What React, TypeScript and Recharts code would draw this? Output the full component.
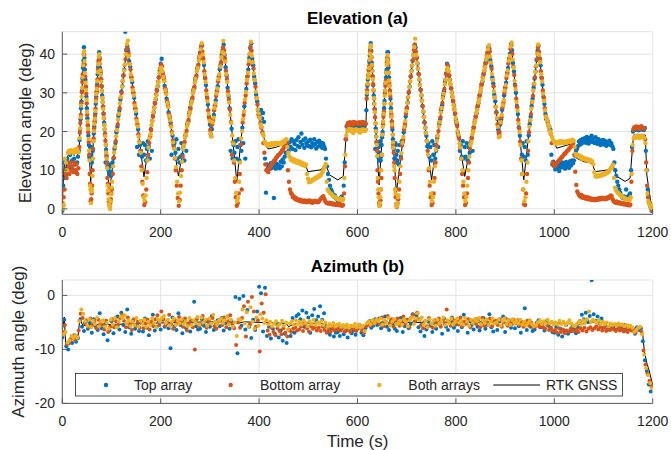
import React from 'react';
import { ComposedChart, Scatter, Line, XAxis, YAxis, CartesianGrid } from 'recharts';

// ---------- axes / ticks ----------
const TIME_TICKS = [0, 200, 400, 600, 800, 1000, 1200];
const ELEV_TICKS = [0, 10, 20, 30, 40];
const AZ_TICKS = [-20, -10, 0];
const TIME_DOMAIN: [number, number] = [0, 1200];
const ELEV_DOMAIN: [number, number] = [-1.4, 45.8];
const AZ_DOMAIN: [number, number] = [-20, 2.85];

// sampling of the scatter series (seconds) and phase of each array inside a step
const ELEV_STEP = 2;
const AZ_STEP = 4;
const PHASE_TOP = 0;
const PHASE_BOTTOM = 1 / 3;
const PHASE_BOTH = 2 / 3;
// extra (in-between) samples read on the steepest passes
const ELEV_EXTRA_START_1 = 35;
const ELEV_EXTRA_START_2 = 619;

// ---------- Elevation (a) : scatter series, one value every 2 s ----------
const ELEV_TOP_ARRAY = [
  -0.5, 6, 12, 8, 9, 13, 12, 10.5, 14, 11, /* 0 */
  12.5, 10, 13, 11.5, 9.5, 12, 13.5, 15, 20.5, 26, /* 20 */
  30.5, 36.5, 41.8, 36, 31.5, 26, 21.5, 16.5, 13, 16, /* 40 */
  12, 15, 19.5, 22.5, 27.2, 30.3, 34.8, 38.5, 39, 35.2, /* 60 */
  31.7, 27.6, 24.6, 20.5, 12, 13.5, 11, 10, 11.5, 9, /* 80 */
  9.5, 12, 13, 15.5, 17, 19.8, 21.2, 24, 25.4, 28.2, /* 100 */
  30.3, 31.7, 34.5, 36, 45.8, 41, 42.2, 40.8, 38.2, 36.8, /* 120 */
  34.1, 32.8, 30.1, 28.7, 26, 24.6, 16, 20.6, 14, 16.5, /* 140 */
  15, 13.5, 17, 14, 16.5, 12.5, 15.5, 17.5, 16, 13, /* 160 */
  20.6, 15, 24, 25, 27.4, 28.3, 30.8, 31.7, 34, 35.8, /* 180 */
  37.5, 38.8, 35.2, 34.2, 31.8, 30.8, 28.5, 27.5, 25, 24.1, /* 200 */
  22.3, 14, 18.9, 16.5, 17, 14.5, 18, 13, 15.5, 12, /* 220 */
  13.5, 17, 14, 16, 12.5, 18.8, 15, 21.8, 22.5, 24.6, /* 240 */
  26.2, 27.5, 28.3, 30.5, 31.2, 33.4, 34, 36.2, 36.8, 38.9, /* 260 */
  40.4, 41.8, 42.3, 39, 37.2, 33.9, 32, 28.9, 27, 23.8, /* 280 */
  21.8, 19.3, 20.6, 23, 24.3, 26.7, 28, 30.5, 31.7, 34.2, /* 300 */
  36.1, 37.3, 39.8, 41.1, 42.5, 39.8, 36.6, 34.5, 31.3, 29.2, /* 320 */
  26, 15, 20.7, 13, 16.5, 14.5, 17.5, 13, 16, 18, /* 340 */
  12.5, 16.5, 15, 21, 17, 26.5, 13, 31, 34.2, 36, /* 360 */
  39, 41.6, 42.8, 38.8, 37.1, 34.2, 32.5, 29.5, 27.8, 25.5, /* 380 */
  25.3, 24.6, 25.6, 23.4, 24.8, 22.5, 13, 4.2, 11.5, 10.5, /* 400 */
  11, 10.3, 11.8, 10.6, 12, 2.8, 11.2, 10.4, 11.6, 10.8, /* 420 */
  11.2, 10.5, 12.2, 11, 12.8, 12, 13.5, 14.5, 17, 16.5, /* 440 */
  15, 17.2, 16, 18, 15.5, 17.5, 16.8, 15.2, 17.8, 16.3, /* 460 */
  18.5, 16, 17.3, 19.5, 16.6, 17.8, 15.8, 18.2, 17, 16.4, /* 480 */
  17.5, 16.2, 17.9, 15.9, 17, 16.4, 18, 16.8, 15.6, 17.3, /* 500 */
  16.1, 17.6, 16.5, 17.1, 15.8, 16.9, 16.2, 15.5, 13, 11, /* 520 */
  9, 7.5, 6, 5, 4.5, 3.8, 3.2, 3.5, 2.8, 2.5, /* 540 */
  2.2, 2.6, 2.1, 2.9, 3.2, 2.5, 6, 12, 18, 21.3, /* 560 */
  21.8, 22.1, 21.6, 22, 21.4, 21.9, 22.2, 21.7, 22, 21.5, /* 580 */
  21.8, 22, 21.4, 21.9, 22.2, 21.6, 22, 21.7, 21.9, 25.5, /* 600 */
  31.8, 34.3, 38, 41.2, 40.8, 35.7, 32, 27.2, 15.5, 18.7, /* 620 */
  15, 16.5, 12.5, 17.5, 13.5, 18.5, 22.5, 26, 30.5, 34, /* 640 */
  38.5, 40.5, 34, 30.5, 26, 22.5, 18, 15.5, 13, 16.5, /* 660 */
  12, 15, 11.5, 16.5, 13.5, 17.5, 17.3, 19.8, 21.3, 23.9, /* 680 */
  26, 27.5, 30.1, 31.6, 34.2, 35.7, 38.3, 39.8, 42.4, 41.7, /* 700 */
  39.1, 37.6, 34.9, 33.4, 30.8, 29.3, 26.6, 25.1, 22.4, 21, /* 720 */
  18.9, 16.2, 17, 13.5, 16, 12.5, 17.5, 14, 16.5, 13, /* 740 */
  15, 18.3, 16, 21.9, 23.1, 25.5, 26.8, 29.2, 30.4, 32.8, /* 760 */
  35, 37.5, 36.8, 34.4, 33.4, 31.2, 30.1, 27.9, 26.8, 24.6, /* 780 */
  23, 21.9, 19.7, 18.6, 15, 16.5, 13.5, 17.5, 13, 16, /* 800 */
  13.5, 17, 12.5, 16, 14.5, 17, 18.4, 15, 21.1, 22.5, /* 820 */
  23.9, 24.7, 26.6, 27.4, 29.4, 30.2, 32.2, 32.9, 34.9, 35.7, /* 840 */
  37.7, 38.5, 40.4, 41.8, 41.4, 38.5, 36.9, 34, 32.4, 29.5, /* 860 */
  27.8, 25, 23.3, 20.5, 19.3, 21.8, 23.1, 25.6, 26.9, 29.4, /* 880 */
  31.3, 32.6, 35.1, 36.4, 38.8, 40.1, 42.6, 41, 37.7, 35.5, /* 900 */
  32.1, 30, 26.6, 24.5, 21.1, 18.9, 16.5, 14, 17, 13.5, /* 920 */
  16, 12.5, 17.5, 14, 19, 21.9, 23.8, 26.6, 28.5, 31.3, /* 940 */
  33.7, 35.5, 38.5, 40.9, 42.2, 39, 37.1, 34, 32.1, 29, /* 960 */
  27.1, 24.6, 23.2, 22.8, 21.7, 21.2, 20.5, 14, 11.5, 12.2, /* 980 */
  11, 10.2, 11.8, 10.5, 11.2, 9.8, 11.6, 10.7, 12, 10.9, /* 1000 */
  11.5, 10.4, 12.1, 11, 11.8, 10.6, 12.3, 11.2, 12.5, 11.8, /* 1020 */
  12.5, 13.8, 14.7, 15.5, 16.2, 17.4, 16.6, 17.8, 16.9, 18.1, /* 1040 */
  17.5, 18.3, 17.1, 18.6, 17.8, 16.9, 18.4, 17.6, 18.9, 17.3, /* 1060 */
  18.2, 17, 18.5, 17.4, 16.8, 18, 17.2, 16.5, 17.7, 16.9, /* 1080 */
  17.8, 16.6, 17.5, 16.3, 17.2, 16.8, 17.6, 16.5, 17, 16.2, /* 1100 */
  15.5, 12, 10, 8.5, 7, 6, 5, 4.2, 3.5, 3, /* 1120 */
  2.8, 3.2, 2.6, 5, 3, 2.5, 3.5, 4, 10, 16, /* 1140 */
  20, 20.8, 20.4, 21, 20.6, 20.9, 20.3, 20.7, 21.1, 20.5, /* 1160 */
  20.7, 20.4, 20.9, 15, 10, 5, 3, 1.5, 0.5, -0.5, /* 1180 */
  0,
];
const ELEV_TOP_EXTRA_1 = [
  17.8, 23.2, 27.8, 33.7, 38.3, 39, 33.4, 29, 23.4, 18.9, 13.5, 16, 14, 13, 17.5, 21.3, 24.6,
  29, 32.2, 36.7, 40.5, 36.4, 33.5, 29.3, 26.4, 22.3, 19.4, 15.3, 12, 10.5, 9, 11, 8.5,
];
const ELEV_TOP_EXTRA_2 = [
  29.5, 33.4, 35.9, 39.6, 42.8, 37.8, 34.2, 29.3, 25.7, 20.8, 17.1, 13.5, 16, 14.5, 12.5, 16.5,
  19.9, 24.5, 27.9, 32.5, 35.9, 40.5, 36.5, 31.9, 28.5, 23.9, 20.5, 15.8, 13, 17, 14, 12.5,
];

const ELEV_BOTTOM_ARRAY = [
  1.5, 3, 5, 9, 8, 10, 11, 9, 12, 10, /* 0 */
  11, 9.5, 12, 10, 11.5, 9, 10.5, 16, 22.2, 27.3, /* 20 */
  32.8, 37.3, 39.8, 34.2, 29.8, 24.3, 19.8, 14, 6.5, 2.5, /* 40 */
  6, 15.5, 20.8, 24, 28.5, 31.6, 36, 39.3, 37.6, 33.4, /* 60 */
  30.5, 26.4, 23.4, 19.3, 16.5, 11.8, 6.5, 2, 0.3, 2.5, /* 80 */
  5, 9, 13.2, 16, 17.5, 20.3, 21.8, 24.5, 26, 28.8, /* 100 */
  30, 33, 34.5, 37.2, 38.7, 41.3, 41.5, 40.1, 37.5, 36, /* 120 */
  34, 31.4, 30, 27.4, 25.9, 23.3, 21.9, 19.3, 17.3, 15, /* 140 */
  11, 7, 3.5, 1, 1.8, 5, 9.5, 14, 17, 18.8, /* 160 */
  20.4, 22.8, 23.9, 26.2, 27.3, 29.6, 30.6, 32.9, 34, 36.3, /* 180 */
  37.3, 36.9, 34.6, 33.5, 31.2, 30.1, 27.9, 26.8, 24.5, 23.4, /* 200 */
  21.6, 19.9, 17.7, 16, 13, 10, 6, 2.8, 0.8, 2.3, /* 220 */
  6, 10, 13.5, 16.5, 17.3, 19.3, 20.2, 22.2, 23, 25.1, /* 240 */
  25.9, 27.9, 28.8, 30.8, 31.6, 33.7, 34.5, 36.5, 37.3, 39.4, /* 260 */
  40.2, 42.2, 40.7, 38.8, 35.6, 33.7, 30.6, 28.6, 25.5, 23.5, /* 280 */
  20.4, 18.8, 21.8, 23, 25.5, 26.7, 29.2, 30.5, 32.9, 34.2, /* 300 */
  36.7, 37.9, 40.4, 41.7, 41, 38.9, 35.7, 33.6, 30.4, 28.3, /* 320 */
  25.7, 22.5, 14, 17.2, 12, 7, 3, 0.8, 1.5, 4, /* 340 */
  9, 16.6, 5, 22.3, 24.3, 27.4, 29.3, 32.4, 34.3, 37.4, /* 360 */
  39.9, 41.9, 40.9, 38, 36.3, 33.4, 31.6, 28.7, 27, 24.4, /* 380 */
  23.6, 22.2, 21, 19.8, 17, 14.5, 11.5, 10, 10.2, 9.5, /* 400 */
  10.3, 11, 11.2, 11.7, 11.9, 12.5, 12.6, 13.2, 13.4, 13.9, /* 420 */
  14, 14.3, 14.6, 15.1, 15.3, 15.9, 16.2, 16.5, 17.2, 10, /* 440 */
  7, 5, 4.2, 3.8, 3, 3.2, 2.6, 2.8, 2.3, 2.5, /* 460 */
  2.2, 2, 2.4, 1.9, 2.1, 1.8, 2.2, 2, 1.7, 2.1, /* 480 */
  1.9, 2.2, 1.7, 2, 1.6, 1.9, 2.1, 1.8, 2, 1.7, /* 500 */
  1.8, 2.1, 2.5, 2.8, 3.1, 3.3, 2.6, 2, 1.6, 1.5, /* 520 */
  1.4, 1.6, 1.3, 1.5, 1.2, 1.4, 1.1, 1.3, 1, 1.2, /* 540 */
  1, 1.2, 0.9, 1.1, 0.8, 1, 4, 11, 18, 21.5, /* 560 */
  22.2, 21.9, 22.4, 22, 22.3, 21.8, 22.5, 22.1, 22.3, 22, /* 580 */
  22.3, 22, 22.4, 21.9, 22.2, 22.5, 22.1, 22.3, 22, 28.5, /* 600 */
  32.2, 35.9, 38.4, 42.1, 39.2, 34.3, 30.6, 25.8, 22.1, 17.3, /* 620 */
  10, 4, 0.8, 2.2, 8, 19.2, 23.8, 27.2, 31.8, 35.2, /* 640 */
  39.2, 37.2, 32.6, 29.2, 24.6, 21.2, 16.6, 12, 5, 1.2, /* 660 */
  0.8, 2.5, 5, 9, 13, 16.4, 17.9, 20.5, 22, 24.6, /* 680 */
  26.1, 28.8, 30.2, 32.9, 34.3, 37, 38.4, 41.1, 42.5, 40.7, /* 700 */
  39, 36.3, 34.8, 32.1, 30.7, 28, 26.5, 23.8, 22.3, 19.7, /* 720 */
  17.6, 15, 10, 6, 3, 1, 1.5, 4, 8, 12, /* 740 */
  16.4, 18.9, 20.1, 22.5, 23.7, 26.1, 27.4, 29.8, 31, 33.4, /* 760 */
  34.8, 37.3, 35.5, 34.5, 32.3, 31.2, 29, 27.9, 25.7, 24.7, /* 780 */
  22.4, 21.4, 19.1, 18.1, 15.8, 13, 9, 6, 3, 1, /* 800 */
  1.5, 4, 8, 12, 15.5, 17.5, 18.3, 20.2, 21, 23, /* 820 */
  23.8, 25.8, 26.5, 28.5, 29.3, 31.3, 32.1, 34, 34.8, 36.8, /* 840 */
  37.6, 39.6, 40.3, 41.7, 40.7, 37.8, 36.2, 33.3, 31.7, 28.8, /* 860 */
  26.4, 24.9, 21.9, 19.7, 19.9, 22.4, 23.7, 26.2, 27.5, 30, /* 880 */
  31.3, 33.8, 35.1, 37.6, 38.8, 41.3, 42.3, 40.1, 36.8, 34.6, /* 900 */
  31.8, 28.5, 26.3, 23, 20.8, 17.4, 13, 9, 5, 1.2, /* 920 */
  1, 4, 9, 15, 19.8, 22.8, 24.5, 27.5, 29.2, 32.2, /* 940 */
  34, 36.9, 38.7, 41.7, 40.6, 38.7, 35.6, 33.7, 30.6, 28.7, /* 960 */
  26, 24, 23.1, 22.2, 21.2, 20.3, 19.4, 17, 12, 11.5, /* 980 */
  11, 11.4, 11.7, 12.1, 12.3, 12.7, 13, 13.3, 13.5, 13.9, /* 1000 */
  14.2, 14.4, 14.8, 15, 15.3, 15.6, 15.9, 16.2, 16.6, 17, /* 1020 */
  14, 9.6, 6.2, 4.5, 4, 3.5, 3.2, 3.6, 2.9, 3.3, /* 1040 */
  2.8, 3.1, 2.6, 3, 2.5, 2.9, 2.4, 2.7, 2.3, 2.6, /* 1060 */
  2.5, 2.2, 2.6, 2.3, 2.7, 2.4, 2.8, 2.5, 2.9, 2.6, /* 1080 */
  2.7, 2.5, 2.8, 2.6, 3, 2.8, 3.2, 3.5, 3.3, 2.5, /* 1100 */
  2, 1.8, 1.6, 1.9, 1.5, 1.7, 1.4, 1.6, 1.3, 1.5, /* 1120 */
  1.2, 1.4, 1.1, 1.3, 1, 1.2, 0.9, 1.1, 7, 15, /* 1140 */
  20.5, 21.1, 20.8, 21.3, 20.9, 21.2, 20.7, 21, 21.4, 20.9, /* 1160 */
  21, 20.7, 18, 12, 6, 3, 1.5, 0.8, 0.2, -0.3, /* 1180 */
];
const ELEV_BOTTOM_EXTRA_1 = [
  19.7, 24.3, 30.2, 34.8, 40, 37.3, 31.7, 27.3, 21.7, 17.3, 9, 2, 4, 10, 18.2, 22.6, 25.9,
  30.3, 33.5, 38, 38.7, 35.8, 31.7, 28.7, 24.6, 21.7, 17.6, 14, 8, 4, 1, 1.5, 4,
];
const ELEV_BOTTOM_EXTRA_2 = [
  30.7, 34.4, 36.9, 40.6, 40.7, 37, 32.2, 28.5, 23.7, 20, 15.1, 7, 1.5, 1, 5, 14,
  21.8, 25.2, 29.8, 33.2, 37.8, 38.6, 35.2, 30.6, 27.2, 22.6, 19.2, 14.5, 8, 3, 0.5, 1.5,
];

const ELEV_BOTH_ARRAY = [
  0, 1, 13, 12, 10, 14.5, 15, 14.5, 15.2, 14.8, /* 0 */
  15, 14.5, 15.3, 14.8, 15.5, 15, 14.6, 18.3, 23.7, 29, /* 20 */
  34, 39.8, 38.2, 32.6, 28.2, 22.6, 18.1, 12.5, 5, 4.5, /* 40 */
  8.5, 17.5, 22, 25.3, 29.7, 33, 37.4, 40, 35.8, 32.9, /* 60 */
  28.7, 25.8, 21.7, 18.8, 14.6, 10.5, 4.8, 1.2, 0, 3.8, /* 80 */
  7, 11, 14.6, 16.1, 18.8, 20.4, 23.1, 24.6, 27.3, 28.9, /* 100 */
  31.6, 33.1, 35.8, 37.3, 40, 42.6, 43.5, 39.5, 37.4, 34.8, /* 120 */
  33.3, 30.7, 29.3, 26.7, 25.3, 22.7, 21.3, 18.7, 17.2, 14.5, /* 140 */
  10, 6.5, 3, 2.2, 3.5, 8, 12.5, 15.8, 18.2, 19.3, /* 160 */
  21.6, 22.7, 25, 26.1, 28.4, 29.4, 31.7, 32.8, 35.1, 36.2, /* 180 */
  36.5, 35.6, 34.1, 33, 30.7, 29.6, 27.4, 26.3, 24, 22.9, /* 200 */
  21.2, 19.5, 17.2, 15.5, 13.2, 10.8, 7, 4, 2, 4.2, /* 220 */
  8.5, 12.2, 15.5, 16.4, 18.4, 19.2, 21.3, 22.1, 24.1, 25, /* 240 */
  27, 27.8, 29.9, 30.7, 32.7, 33.6, 35.6, 36.4, 38.4, 39.3, /* 260 */
  41.3, 42.8, 39.9, 37.9, 34.8, 32.8, 29.7, 27.8, 24.6, 22.7, /* 280 */
  19.5, 18.7, 22.4, 23.6, 26.1, 27.3, 29.8, 31.1, 33.5, 34.8, /* 300 */
  36.8, 39.2, 40.5, 43.4, 40.1, 38.1, 34.8, 32.8, 29.5, 27.5, /* 320 */
  24.3, 22.2, 19, 16.9, 12.5, 8, 4.2, 2, 2.8, 7, /* 340 */
  12, 18.2, 20.1, 23.2, 25.2, 28.3, 30.2, 33.3, 35.2, 38.3, /* 360 */
  40.1, 43.2, 39.6, 37.9, 35, 33.3, 30.3, 28.6, 25.7, 24.7, /* 380 */
  23.5, 21.8, 21.2, 19.4, 18.9, 17.4, 16.9, 16.5, 16.8, 16.3, /* 400 */
  16.8, 16.4, 17, 16.6, 16.9, 16.5, 17.1, 16.7, 17, 16.8, /* 420 */
  17, 16.7, 17.2, 17, 17.5, 17.3, 17.8, 18, 16, 14.5, /* 440 */
  13.6, 13.2, 12.6, 13, 12.3, 12.8, 12.1, 12.5, 11.9, 12.3, /* 460 */
  11.8, 12.2, 11.5, 11.9, 11.3, 11.7, 11.1, 11.4, 9, 7.8, /* 480 */
  6.9, 7.2, 7, 7.5, 7.4, 7.8, 7.7, 8.1, 8, 8.4, /* 500 */
  8.3, 8.8, 8.6, 9.2, 9.6, 10.3, 11, 11.6, 7, 5, /* 520 */
  4.6, 4.2, 4, 3.8, 3.5, 3.3, 3.1, 3, 2.7, 2.6, /* 540 */
  2.5, 2.4, 2.7, 2.3, 2.2, 2.6, 8, 14, 19, 20.2, /* 560 */
  20.3, 20.7, 20.2, 20.6, 20, 19.6, 20.5, 20.1, 20.6, 20.3, /* 580 */
  20.4, 20, 19.7, 20.5, 20.2, 20.6, 20.3, 20.1, 20.5, 30, /* 600 */
  33.9, 36.4, 40.1, 42.3, 37.2, 33.5, 28.6, 25, 20.1, 16.5, /* 620 */
  8, 3, 1.5, 5, 14, 21.2, 24.6, 29.2, 32.6, 37.2, /* 640 */
  39.8, 35.2, 31.8, 27.2, 23.8, 19.2, 15.8, 10, 4, 0.6, /* 660 */
  1.5, 3.5, 7, 11, 14.4, 17.1, 18.6, 21.2, 22.7, 25.3, /* 680 */
  27.4, 28.9, 31.5, 33, 35.6, 37.1, 39.7, 41.8, 44, 39.7, /* 700 */
  37.7, 36.2, 33.5, 32, 29.4, 27.9, 25.2, 23.7, 21, 19.6, /* 720 */
  17.5, 14, 10.5, 7, 4, 2, 3, 7, 11, 15.3, /* 740 */
  17.6, 18.9, 21.3, 22.5, 24.9, 26.1, 28.6, 29.8, 32.2, 33.4, /* 760 */
  36, 36.4, 35.6, 33.3, 32.3, 30.1, 29, 26.8, 25.7, 23.5, /* 780 */
  22.5, 20.2, 19.2, 16.9, 15.9, 13, 10, 7, 4, 2, /* 800 */
  3, 6, 10, 13.5, 16.5, 17.3, 19.3, 20, 22, 22.8, /* 820 */
  24.8, 25.6, 27.5, 28.3, 30.3, 31.1, 33.1, 33.8, 35.8, 36.6, /* 840 */
  38.6, 39.4, 41.3, 42.3, 39.4, 37.8, 34.9, 33.3, 30.4, 28.8, /* 860 */
  26.3, 23.5, 21.2, 18.5, 18.8, 22.4, 24.3, 26.8, 28.1, 30.6, /* 880 */
  32, 34.5, 35.8, 38.3, 39.5, 42, 43, 38.6, 36.5, 33.1, /* 900 */
  30.9, 27.6, 25.4, 22.1, 19.9, 16.5, 12.5, 9, 5, 2, /* 920 */
  3, 7, 12, 17.5, 21.2, 23, 25.9, 27.7, 30.6, 32.4, /* 940 */
  35.4, 37.1, 40.1, 42.5, 39.8, 37.9, 34.8, 32.9, 29.8, 27.9, /* 960 */
  25.5, 23.8, 22.9, 21.8, 21.2, 20.1, 19.5, 18.6, 17.8, 17.5, /* 980 */
  17.2, 16.8, 17.3, 16.9, 17.4, 17, 17.5, 17.1, 17.4, 17, /* 1000 */
  17.3, 17, 17.5, 17.2, 17.6, 17.3, 17.7, 17.5, 17.9, 17.6, /* 1020 */
  16, 14.2, 13.8, 14, 13.5, 13.8, 13.2, 13.5, 12.9, 13.2, /* 1040 */
  12.8, 13, 12.6, 12.9, 12.4, 12.7, 12.3, 12.5, 12.2, 11.5, /* 1060 */
  9.5, 8.5, 8.3, 8.6, 8.4, 8.8, 8.5, 8.9, 8.7, 9.1, /* 1080 */
  8.9, 9.3, 9.1, 9.5, 9.4, 9.8, 10.2, 10.6, 11, 11.4, /* 1100 */
  8, 5.5, 4.8, 4.4, 4.1, 3.9, 3.6, 3.5, 3.2, 3.1, /* 1120 */
  2.9, 2.7, 2.5, 2.6, 2.4, 2.5, 2.3, 3, 9, 16.5, /* 1140 */
  18.2, 18.7, 18.4, 18.9, 18.5, 18.8, 18.3, 18.6, 19, 18.5, /* 1160 */
  18.6, 18.3, 17, 10, 4, 2, 1.2, 0.7, 0.3, 1, /* 1180 */
];
const ELEV_BOTH_EXTRA_1 = [
  20.8, 26.7, 31.3, 37.1, 40.8, 35.1, 30.7, 25.1, 20.7, 15.1, 6, 1.5, 5, 13, 20.1, 23.3, 27.8,
  31, 35.4, 39.3, 37.6, 34.6, 30.5, 27.6, 23.5, 20.6, 16.5, 13, 6, 2.5, 0.5, 2, 5.5,
];
const ELEV_BOTH_EXTRA_2 = [
  32.4, 34.9, 38.6, 41.7, 39.3, 35.6, 30.8, 27.1, 22.2, 18.6, 13.7, 5, 0.8, 3, 10, 19.2,
  22.6, 27.2, 30.6, 35.2, 38.6, 37.8, 33.2, 29.8, 25.2, 21.8, 17.2, 11, 5, 1, 0.8, 3,
];

// RTK GNSS reference elevation [time s, angle deg]
const RTK_ELEVATION: [number, number][] = [
  [0, 1], [2, 7], [4, 12.5], [7, 9], [10, 13], [12, 14], [16, 13.5], [20, 14.5], [24, 13.8], [28, 15],
  [31, 14], [34, 15], [44, 41.2], [57.7, 7], [75, 40.2], [95.6, 4], [132, 42.5], [166, 8.3], [201, 38],
  [236, 8.5], [283.5, 42.5], [302, 19], [327.5, 42.8], [354.7, 7], [383, 42.6], [398, 25], [404, 21.7],
  [410, 18.3], [416, 15.8], [420, 15.5], [436, 16], [448, 16.6], [456, 17.8], [461, 13.5], [468, 12.2],
  [494, 11.8], [499, 9.6], [526, 10.1], [535, 11.8], [543, 8.8], [560, 7.5], [571, 8.4], [574, 13.5],
  [577, 19.5], [580, 20.8], [588, 21], [590, 20], [592, 21], [602, 21], [604, 19.9], [606, 21],
  [617, 21], [619, 30], [627, 42.4], [644, 6.2], [661, 40.2], [679, 4.1], [716.7, 42.8], [750.5, 7.5],
  [783, 37.2], [818, 8.4], [867, 42.2], [887.5, 19.1], [912.5, 42.8], [938, 7.5], [967.5, 42.4],
  [982, 24.3], [995, 18.3], [1005, 15.7], [1032, 16.7], [1039, 17.4], [1045, 13.1], [1060, 12.2],
  [1077, 11.8], [1083, 9.6], [1110, 10.1], [1119, 11.4], [1127, 8.4], [1144, 7.1], [1154, 7.9],
  [1161, 19.1], [1170, 19.3], [1178, 19], [1185, 19.1], [1188, 8.8], [1194, 3.6], [1197, 1], [1200, 0],
];

// ---------- Azimuth (b) : scatter series, one value every 4 s ----------
const AZ_TOP_ARRAY = [
  -7.8, -4.5, -9.4, -10, -8.2, -8.8, -7.4, -8.6, -7.9, -4.6, /* 0 */
  -5.8, -6.6, -4.9, -6.2, -5.1, -6.9, -4.4, -5.7, -6.4, -3.3, /* 40 */
  -6.1, -7.2, -5.3, -8.3, -6.5, -4.8, -7, -5.6, -3.9, -6.3, /* 80 */
  -3.2, -5.5, -6.8, -2.6, -5.9, -7.1, -4.7, -6.2, -5.3, -6.6, /* 120 */
  -5.1, -6.7, -4.3, -6, -7.4, -5.2, -3.6, -6.5, -5.8, -4.7, /* 160 */
  -6.3, -4.5, -5.8, -5.2, -6.1, -9.8, -4.1, -5.7, -6.4, -3.3, /* 200 */
  -5.5, -7, -4.6, -6.1, -5.3, -6.7, -4.9, -1.2, -5.7, -6.3, /* 240 */
  -6.2, -4.4, -5.6, -6.8, -4.9, -5.8, -3.8, -6.4, -5.1, -4.6, /* 280 */
  -5.7, -4.2, -6.5, -5.1, -3.9, -6.2, -4.8, -5.9, -0.3, -10.7, /* 320 */
  -0.6, -5.6, -0.1, -6.3, -2.7, -5.8, -7.9, -4.5, -6.4, -3, /* 360 */
  1.6, 0.4, -6.7, 1.4, -7.5, -5.8, -8, -6.2, -7.1, -5.3, /* 400 */
  -7.8, -6.5, -8.4, -7.1, -8.8, -6.3, -7.5, -4.2, -6.9, -3.8, /* 440 */
  -3.5, -4.4, -2.8, -5.8, -3.2, -4.1, -6.9, -3.7, -2.5, -4.6, /* 480 */
  -3.9, -2, -4.5, -3.3, -5.7, -6.8, -7.3, -6.2, -7.6, -6.9, /* 520 */
  -6.8, -7.5, -6.1, -7.2, -6.6, -7.8, -6.3, -7, -6.5, -7.3, /* 560 */
  -6.2, -5.5, -6.9, -7.4, -6.1, -5.3, -4.8, -6, -5.6, -4.4, /* 600 */
  -5.5, -4.3, -6.1, -5, -3.9, -5.8, -6.4, -4.7, -5.4, -6.2, /* 640 */
  -6.6, -5.1, -4.2, -6.8, -5.7, -4.5, -6.1, -5.3, -3.5, -4.9, /* 680 */
  -3.8, -5.9, -6.7, -5.2, -7.5, -6.3, -4.9, -5.6, -6.8, -5.1, /* 720 */
  -6.2, -4.6, -5.5, -7.1, -4.3, -5.8, -6.4, -5, -4.1, -6, /* 760 */
  -5.4, -6.6, -4.7, -5.9, -3.6, -5.2, -6.9, -4.8, -5.5, -6.3, /* 800 */
  -4.4, -5.8, -6.5, -5, -4.2, -6.2, -5.5, -3.5, -5.9, -6.7, /* 840 */
  -5.1, -6.4, -4.8, -5.6, -3.9, -6.8, -5.3, -4.6, -6, -5.2, /* 880 */
  -6.1, -4.9, -5.7, -6.9, -5.4, -2.4, -6.4, -4.7, -5.8, -6.6, /* 920 */
  -6.3, -5.1, -4.6, -5.9, -5.3, -6.5, -4.8, -5.6, -6.1, -6.8, /* 960 */
  -6.9, -5.8, -7.3, -6.2, -7.6, -6.5, -5.5, -7.1, -6.7, -6, /* 1000 */
  -6.4, -7, -5.9, -4.8, -3.6, -4.4, -3.2, -4.9, -3.8, 2.8, /* 1040 */
  -3.5, -4.7, -3.9, -5.2, -4.3, -6, -5.6, -6.4, -5.9, -6.2, /* 1080 */
  -5.8, -6.3, -5.5, -6.1, -5.7, -6.4, -5.9, -6.6, -6, -6.2, /* 1120 */
  -6.2, -7.1, -5.9, -6.4, -6.1, -8.5, -12, -14, -16.5, -17.8, /* 1160 */
  -16.8,
];

const AZ_BOTTOM_ARRAY = [
  -6.8, -5.5, -9, -8.9, -8.1, -7.7, -8.2, -7.6, -6.5, -3.4, /* 0 */
  -4.2, -5.1, -4.6, -5.8, -4.3, -5.5, -4.9, -6.1, -4.5, -5.2, /* 40 */
  -5.4, -6.3, -4.7, -6.8, -5.8, -4.4, -5.9, -4.8, -5.5, -4.2, /* 80 */
  -3.6, -4.7, -5.9, -4.1, -5.3, -6.4, -4.4, -5.6, -4.9, -6, /* 120 */
  -4.8, -6.1, -5.2, -4.5, -6.3, -4.9, -5.7, -4.4, -3.7, -5.5, /* 160 */
  -3, -4.4, -5.6, -4.8, -3.6, -5.3, -6.2, -4.6, -5.1, -4, /* 200 */
  -4.9, -5.8, -4.3, -6.5, -5.2, -4.7, -5.9, -10, -4.4, -5.6, /* 240 */
  -5.4, -3.8, -4.9, -6, -4.6, -5.3, -4.2, -5.7, -6.2, -4.8, /* 280 */
  -4.6, -5.5, -4.1, -5.9, -4.8, -3.7, -5.3, -6.1, -9.2, -5, /* 320 */
  -6, -4.2, -2, -7.6, -1.2, -5.4, -0.3, -3, -5.8, -4.6, /* 360 */
  -10.4, -1.5, -3.2, 0.2, -6.5, -7.3, -5.9, -6.8, -7.4, -6.1, /* 400 */
  -6.6, -7.2, -6.1, -6.9, -7.6, -6.4, -6.8, -6.2, -5.9, -6.5, /* 440 */
  -6.3, -5.8, -6.6, -5.5, -6.1, -6.7, -5.7, -6.2, -5.9, -6.5, /* 480 */
  -6, -6.6, -5.8, -6.4, -6.9, -6.2, -6.7, -6, -6.5, -6.3, /* 520 */
  -6.2, -6.5, -5.9, -6.7, -6.1, -6.4, -6.8, -6, -6.3, -6.6, /* 560 */
  -6.1, -5.8, -6.4, -6.9, -5.7, -5, -5.6, -4.7, -5.3, -4.9, /* 600 */
  -4.6, -5.3, -4.1, -5.7, -4.9, -3.8, -5.2, -4.4, -5.8, -4.7, /* 640 */
  -4.3, -5.6, -4.8, -3.9, -5.2, -4.5, -5.9, -4.1, -3.6, -4.7, /* 680 */
  -3.2, -4.4, -5.5, -6.1, -4.8, -5.7, -4.2, -5.3, -6, -4.6, /* 720 */
  -5.1, -4.3, -5.8, -4.7, -5.3, -2.6, -4.9, -5.6, -4.4, -5.2, /* 760 */
  -4.6, -5.4, -4.1, -5.7, -4.9, -5.2, -4.4, -5.9, -4.7, -5.1, /* 800 */
  -5.3, -4.5, -5.9, -4.2, -5.6, -4.8, -5.1, -4.3, -5.7, -4.9, /* 840 */
  -4.7, -5.5, -4.4, -5.8, -5, -4.3, -5.6, -4.9, -5.3, -4.5, /* 880 */
  -5.2, -4.6, -5.5, -4.9, -5.8, -5.1, -4.7, -5.6, -5, -5.9, /* 920 */
  -5.7, -5.2, -5.8, -5.4, -5.9, -6.2, -5.5, -6.4, -6, -6.6, /* 960 */
  -6.4, -6.9, -6.1, -6.8, -6.3, -7, -6.5, -6.7, -6.2, -6.6, /* 1000 */
  -6.6, -6.3, -6.8, -6.1, -6.5, -6, -6.7, -6.2, -5.9, -6.4, /* 1040 */
  -6.1, -5.7, -6.3, -5.9, -6.5, -6, -6.6, -6.2, -6.4, -6.1, /* 1080 */
  -6.3, -6.6, -6.1, -6.5, -6.2, -6.7, -6.4, -6.8, -6.3, -6.5, /* 1120 */
  -6.6, -6.9, -6.2, -6, -6.8, -10.2, -12.8, -14.5, -15.8, -16.8, /* 1160 */
];

const AZ_BOTH_ARRAY = [
  -7.2, -6.8, -8.7, -8.3, -7.5, -7.9, -7.4, -7.8, -4.8, -2.6, /* 0 */
  -3.4, -4.8, -5.6, -4.4, -5.9, -4.7, -5.3, -4.1, -5.7, -4.9, /* 40 */
  -4.6, -5.8, -5.1, -6.2, -4.5, -5.4, -4.2, -5.9, -4.8, -3.9, /* 80 */
  -4.3, -3.7, -5.2, -4.6, -5.7, -4.9, -5.5, -4.2, -5.8, -4.7, /* 120 */
  -5.3, -4.5, -5.8, -4.9, -5.5, -4.3, -5.1, -5.9, -4.4, -4.8, /* 160 */
  -4.2, -3.8, -5.1, -4.5, -5.6, -4.9, -4.3, -5.5, -4.7, -5.2, /* 200 */
  -4.4, -5.3, -4.8, -5.7, -4.2, -5.5, -4.6, -5.1, -4, -5.4, /* 240 */
  -4.1, -5, -4.5, -5.6, -4.3, -5.2, -3.6, -4.9, -5.4, -4.7, /* 280 */
  -4.3, -5.1, -4.6, -3.9, -5.4, -4.5, -5.8, -5, -7.5, -4.4, /* 320 */
  -4.5, -2.6, -5.2, -3.1, -5.8, -2.2, -4.9, -6.2, -4.1, -5.6, /* 360 */
  -3.5, -4.3, -5.1, -4.6, -5.4, -4.9, -5.7, -5.2, -4.8, -5.6, /* 400 */
  -5.3, -4.7, -5.6, -5, -6.3, -5.2, -4.8, -5.5, -4.6, -5.3, /* 440 */
  -4.9, -5.4, -4.6, -5.1, -5.7, -4.8, -5.3, -4.5, -5.5, -5, /* 480 */
  -5.2, -4.7, -5.5, -5, -5.8, -5.3, -5.6, -5.1, -5.7, -5.4, /* 520 */
  -5.3, -5.8, -5.5, -5.9, -5.4, -6, -5.6, -5.7, -5.3, -5.9, /* 560 */
  -5.4, -5.9, -5.6, -6.6, -5.2, -4.9, -5.4, -4.6, -5.1, -4.5, /* 600 */
  -4.8, -4.3, -5.4, -4.6, -5.1, -4.2, -5.6, -4.9, -4.4, -5.3, /* 640 */
  -5.2, -4.7, -5.5, -4.4, -4.9, -5.7, -4.6, -4.1, -5.3, -4.3, /* 680 */
  -3.3, -4.6, -4.1, -5.4, -4.8, -5.9, -4.4, -5.2, -4.7, -5.6, /* 720 */
  -4.5, -5.2, -4.8, -4.1, -5.5, -4.6, -5.1, -4.3, -5.4, -4.9, /* 760 */
  -4.3, -5, -4.7, -5.4, -4.2, -4.9, -5.6, -4.5, -5.1, -4.4, /* 800 */
  -4.8, -4.2, -5.3, -4.6, -5.1, -4.4, -5.5, -4.9, -4.3, -5.2, /* 840 */
  -5, -4.5, -5.6, -4.8, -4.3, -5.3, -4.7, -5.5, -4.4, -5.1, /* 880 */
  -4.7, -5.2, -4.5, -5.4, -4.9, -5.6, -5.1, -4.6, -5.3, -5.7, /* 920 */
  -5.5, -5, -4.6, -5.3, -4.8, -5.2, -4.5, -5.1, -4.9, -5.4, /* 960 */
  -5, -5.4, -4.7, -5.3, -4.9, -5.5, -5.1, -4.6, -5.2, -5.6, /* 1000 */
  -5.6, -5.2, -4.8, -5.3, -4.6, -5.1, -4.4, -3, -4.9, -4.5, /* 1040 */
  -4.8, -5.1, -4.6, -5.3, -4.9, -5.4, -5, -5.7, -5.2, -5.5, /* 1080 */
  -5.3, -5.6, -5.2, -5.5, -5.4, -5.7, -5.5, -5.8, -5.6, -6, /* 1120 */
  -6.8, -6.4, -6, -5.8, -7.2, -11, -13.5, -14.8, -16.2, -17.2, /* 1160 */
];

// RTK GNSS reference azimuth [time s, angle deg]
const RTK_AZIMUTH: [number, number][] = [
  [0, -6.4], [2, -5.5], [4, -4], [7, -9.2], [10, -8.5], [12, -8.6], [16, -7.8], [20, -8], [24, -7.6],
  [28, -7.9], [32, -7.5], [36, -4.1], [40, -5.3], [44, -5.6], [60, -5.4], [100, -5.4], [150, -5.2],
  [200, -5.1], [250, -5], [300, -4.9], [350, -4.9], [360, -5.1], [370, -4.9], [400, -5], [440, -5.1],
  [455, -5.2], [460, -5.8], [470, -5.3], [490, -5.1], [530, -5.2], [538, -5.6], [545, -5.5], [560, -5.6],
  [570, -5.9], [575, -5.6], [580, -5.9], [585, -5.7], [595, -5.8], [605, -5.7], [612, -6.8], [618, -5.6],
  [625, -5.2], [650, -5], [700, -5], [750, -5], [800, -4.9], [850, -5], [900, -5], [950, -5.2],
  [960, -5.6], [965, -5.3], [1000, -5.1], [1030, -5.2], [1040, -5.9], [1048, -5.4], [1080, -5],
  [1100, -5.1], [1108, -5.8], [1115, -5.3], [1140, -5.2], [1155, -5.6], [1162, -6.9], [1170, -6],
  [1176, -5.7], [1180, -7.5], [1183, -10.3], [1188, -12.5], [1193, -14], [1197, -15.5], [1200, -16.5],
];

const LEGEND_LABELS = ['Top array', 'Bottom array', 'Both arrays', 'RTK GNSS'];

// ---------- styling / layout ----------
const COLORS = { top: '#0072BD', bottom: '#D95319', both: '#EDB120', rtk: '#000000' };
const TEXT = '#262626';
const AXIS = '#5a5a5a';
const GRID = '#e3e3e3';
const FONT = '"Liberation Sans", Arial, Helvetica, sans-serif';
const W = 671;
const H = 450;
const PLOT_X = { left: 62.3, right: 652.7 };
const TOP_PLOT = { top: 31.7, bottom: 214.3 };
const BOT_PLOT = { top: 280, bottom: 403.4 };
const Y_AXIS_W = 40;
const X_AXIS_H = 20;

type Pt = { t: number; v: number };
const toPoints = (values: number[], step: number, phase: number, start = 0): Pt[] =>
  values.map((v, i) => ({ t: Math.round((start + (i + phase) * step) * 100) / 100, v }));
const pairsToPoints = (pairs: [number, number][]): Pt[] => pairs.map(([t, v]) => ({ t, v }));

const dotShape = (color: string, r: number) => (props: any) =>
  props.cx == null || props.cy == null ? <g /> : <circle cx={props.cx} cy={props.cy} r={r} fill={color} />;

const makeXTick = (plotBottom: number) => (props: any) => {
  const { x, payload } = props;
  return (
    <g>
      <line x1={x} x2={x} y1={plotBottom} y2={plotBottom - 5} stroke={AXIS} strokeWidth={1} />
      <text x={x} y={plotBottom + 17.5} textAnchor="middle" dominantBaseline="central" fontSize={14} fill={TEXT} fontFamily={FONT}>
        {payload.value}
      </text>
    </g>
  );
};

const YTick = (props: any) => {
  const { y, payload } = props;
  return (
    <g>
      <line x1={PLOT_X.left} x2={PLOT_X.left + 5} y1={y} y2={y} stroke={AXIS} strokeWidth={1} />
      <text x={55} y={y} textAnchor="end" dominantBaseline="central" fontSize={14} fill={TEXT} fontFamily={FONT}>
        {payload.value}
      </text>
    </g>
  );
};

type PanelProps = {
  plot: { top: number; bottom: number };
  yDomain: [number, number];
  yTicks: number[];
  top: Pt[];
  bottom: Pt[];
  both: Pt[];
  rtk: Pt[];
  r: number;
};

const Panel = ({ plot, yDomain, yTicks, top, bottom, both, rtk, r }: PanelProps) => (
  <div style={{ position: 'absolute', left: 0, top: 0, width: W, height: H }}>
    <ComposedChart
      width={W}
      height={H}
      margin={{
        top: plot.top,
        right: W - PLOT_X.right,
        left: PLOT_X.left - Y_AXIS_W,
        bottom: H - plot.bottom - X_AXIS_H,
      }}
    >
      <CartesianGrid stroke={GRID} strokeWidth={1} />
      <XAxis
        type="number"
        dataKey="t"
        domain={TIME_DOMAIN}
        ticks={TIME_TICKS}
        interval={0}
        allowDataOverflow
        height={X_AXIS_H}
        tickLine={false}
        axisLine={{ stroke: AXIS, strokeWidth: 1 }}
        tick={makeXTick(plot.bottom)}
      />
      <YAxis
        type="number"
        dataKey="v"
        domain={yDomain}
        ticks={yTicks}
        interval={0}
        allowDataOverflow
        width={Y_AXIS_W}
        tickLine={false}
        axisLine={{ stroke: AXIS, strokeWidth: 1 }}
        tick={YTick}
      />
      <Scatter data={top} fill={COLORS.top} shape={dotShape(COLORS.top, r)} isAnimationActive={false} />
      <Scatter data={bottom} fill={COLORS.bottom} shape={dotShape(COLORS.bottom, r)} isAnimationActive={false} />
      <Scatter data={both} fill={COLORS.both} shape={dotShape(COLORS.both, r)} isAnimationActive={false} />
      <Line
        data={rtk}
        dataKey="v"
        type="linear"
        stroke={COLORS.rtk}
        strokeWidth={1}
        dot={false}
        activeDot={false}
        isAnimationActive={false}
      />
    </ComposedChart>
  </div>
);

const Overlay = () => {
  const midX = (PLOT_X.left + PLOT_X.right) / 2;
  const legendY = 385;
  const itemX = [
    { mark: 106, text: 134 },
    { mark: 230.7, text: 260 },
    { mark: 379.3, text: 408.3 },
    { mark: 493.3, text: 546 },
  ];
  const legendColors = [COLORS.top, COLORS.bottom, COLORS.both, COLORS.rtk];
  return (
    <svg width={W} height={H} style={{ position: 'absolute', left: 0, top: 0 }} fontFamily={FONT}>
      <text x={midX} y={18.5} textAnchor="middle" dominantBaseline="central" fontSize={17} fontWeight="bold" fill="#000">
        Elevation (a)
      </text>
      <text x={midX} y={266.7} textAnchor="middle" dominantBaseline="central" fontSize={17} fontWeight="bold" fill="#000">
        Azimuth (b)
      </text>
      <text
        x={25}
        y={123}
        transform="rotate(-90 25 123)"
        textAnchor="middle"
        dominantBaseline="central"
        fontSize={17}
        fill={TEXT}
      >
        Elevation angle (deg)
      </text>
      <text
        x={18.5}
        y={341.7}
        transform="rotate(-90 18.5 341.7)"
        textAnchor="middle"
        dominantBaseline="central"
        fontSize={17}
        fill={TEXT}
      >
        Azimuth angle (deg)
      </text>
      <text x={midX} y={441.5} textAnchor="middle" dominantBaseline="central" fontSize={17} fill={TEXT}>
        Time (s)
      </text>
      <rect x={75.5} y={373.5} width={547} height={22.5} fill="#fff" stroke={TEXT} strokeWidth={0.8} />
      {LEGEND_LABELS.map((label, i) => (
        <g key={label}>
          {i < 3 ? (
            <circle cx={itemX[i].mark} cy={legendY} r={2.2} fill={legendColors[i]} />
          ) : (
            <line x1={itemX[i].mark} x2={540} y1={legendY} y2={legendY} stroke={legendColors[i]} strokeWidth={1} />
          )}
          <text x={itemX[i].text} y={legendY} dominantBaseline="central" fontSize={14} fill={TEXT}>
            {label}
          </text>
        </g>
      ))}
    </svg>
  );
};

export default function App() {
  const elevTop = [
    ...toPoints(ELEV_TOP_ARRAY, ELEV_STEP, PHASE_TOP),
    ...toPoints(ELEV_TOP_EXTRA_1, ELEV_STEP, PHASE_TOP, ELEV_EXTRA_START_1),
    ...toPoints(ELEV_TOP_EXTRA_2, ELEV_STEP, PHASE_TOP, ELEV_EXTRA_START_2),
  ];
  const elevBottom = [
    ...toPoints(ELEV_BOTTOM_ARRAY, ELEV_STEP, PHASE_BOTTOM),
    ...toPoints(ELEV_BOTTOM_EXTRA_1, ELEV_STEP, PHASE_BOTTOM, ELEV_EXTRA_START_1),
    ...toPoints(ELEV_BOTTOM_EXTRA_2, ELEV_STEP, PHASE_BOTTOM, ELEV_EXTRA_START_2),
  ];
  const elevBoth = [
    ...toPoints(ELEV_BOTH_ARRAY, ELEV_STEP, PHASE_BOTH),
    ...toPoints(ELEV_BOTH_EXTRA_1, ELEV_STEP, PHASE_BOTH, ELEV_EXTRA_START_1),
    ...toPoints(ELEV_BOTH_EXTRA_2, ELEV_STEP, PHASE_BOTH, ELEV_EXTRA_START_2),
  ];
  const azTop = toPoints(AZ_TOP_ARRAY, AZ_STEP, PHASE_TOP);
  const azBottom = toPoints(AZ_BOTTOM_ARRAY, AZ_STEP, PHASE_BOTTOM);
  const azBoth = toPoints(AZ_BOTH_ARRAY, AZ_STEP, PHASE_BOTH);
  return (
    <div style={{ position: 'absolute', left: 0, top: 0, width: W, height: H, background: '#fff', overflow: 'hidden' }}>
      <Panel
        plot={TOP_PLOT}
        yDomain={ELEV_DOMAIN}
        yTicks={ELEV_TICKS}
        top={elevTop}
        bottom={elevBottom}
        both={elevBoth}
        rtk={pairsToPoints(RTK_ELEVATION)}
        r={2.2}
      />
      <Panel
        plot={BOT_PLOT}
        yDomain={AZ_DOMAIN}
        yTicks={AZ_TICKS}
        top={azTop}
        bottom={azBottom}
        both={azBoth}
        rtk={pairsToPoints(RTK_AZIMUTH)}
        r={2}
      />
      <Overlay />
    </div>
  );
}
